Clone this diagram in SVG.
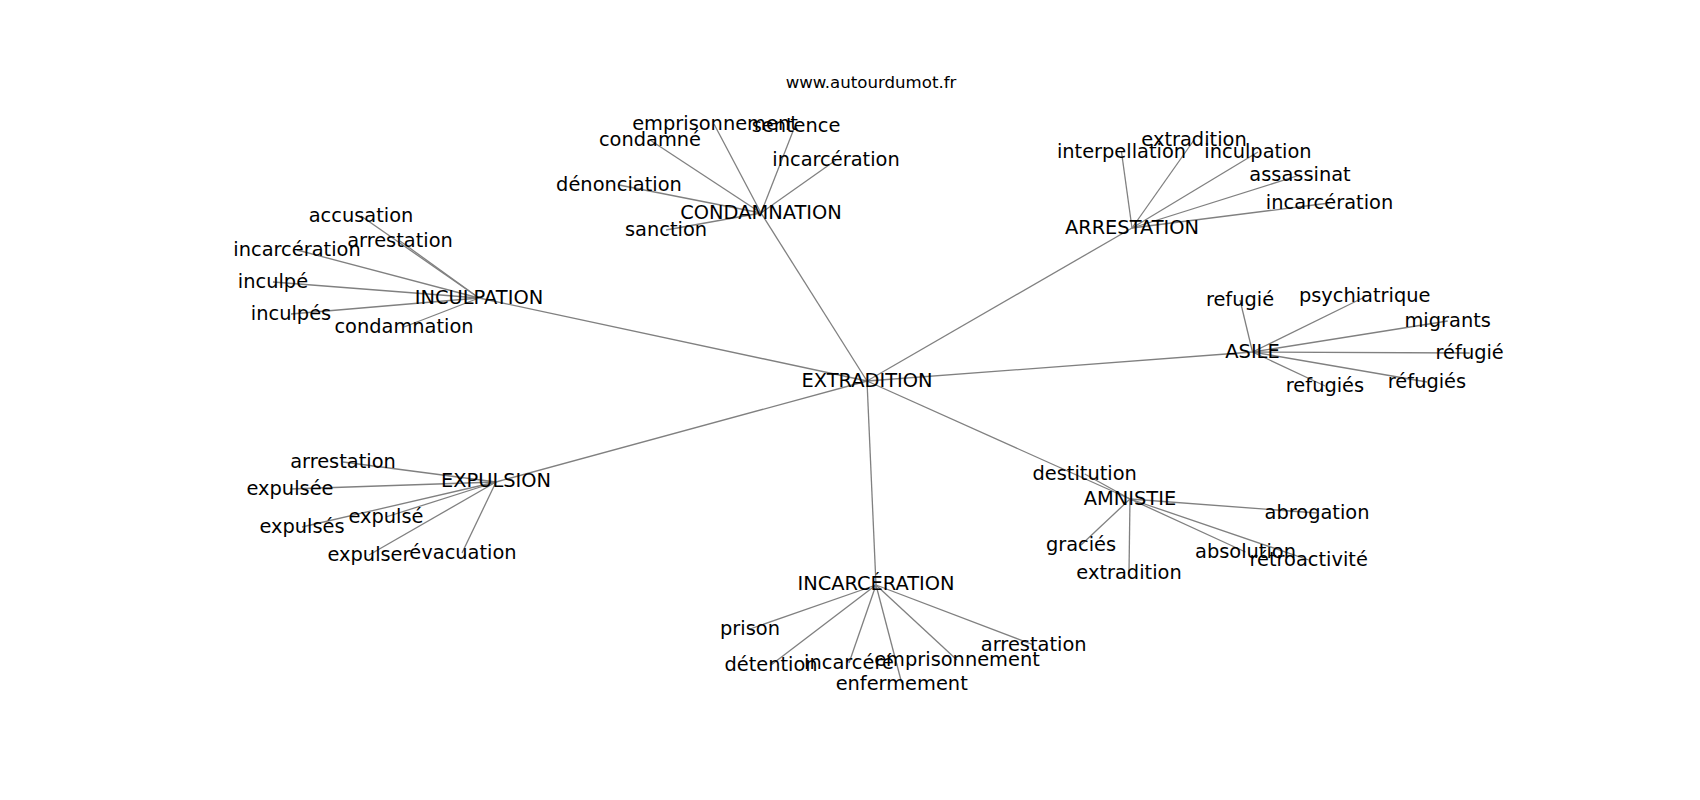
<svg xmlns="http://www.w3.org/2000/svg" width="1700" height="800" viewBox="0 0 1700 800">
<style>
  .bg { fill: #ffffff; }
  .edges line { stroke: #808080; stroke-width: 1.3; }
  .lbl { font-family: "DejaVu Sans", "Liberation Sans", sans-serif; font-size: 19.4px; fill: #000000; text-anchor: middle; }
  .title { font-family: "DejaVu Sans", "Liberation Sans", sans-serif; font-size: 16.6px; fill: #000000; text-anchor: middle; }
</style>
<rect class="bg" x="0" y="0" width="1700" height="800"/>
<text class="title" x="871" y="88">www.autourdumot.fr</text>
<g id="edges" class="edges">
  <line x1="867" y1="381" x2="479" y2="298"/>
  <line x1="867" y1="381" x2="761" y2="213"/>
  <line x1="867" y1="381" x2="1132" y2="228"/>
  <line x1="867" y1="381" x2="1252.5" y2="352"/>
  <line x1="867" y1="381" x2="496" y2="482"/>
  <line x1="867" y1="381" x2="1130" y2="499"/>
  <line x1="867" y1="381" x2="876" y2="585"/>

  <line x1="479" y1="298" x2="361" y2="216"/>
  <line x1="479" y1="298" x2="400" y2="241"/>
  <line x1="479" y1="298" x2="297" y2="250"/>
  <line x1="479" y1="298" x2="273" y2="282"/>
  <line x1="479" y1="298" x2="291" y2="314"/>
  <line x1="479" y1="298" x2="404" y2="327"/>

  <line x1="761" y1="213" x2="714" y2="124"/>
  <line x1="761" y1="213" x2="795" y2="126"/>
  <line x1="761" y1="213" x2="650" y2="140"/>
  <line x1="761" y1="213" x2="836" y2="160"/>
  <line x1="761" y1="213" x2="619" y2="185"/>
  <line x1="761" y1="213" x2="666" y2="230"/>

  <line x1="1132" y1="228" x2="1194" y2="140"/>
  <line x1="1132" y1="228" x2="1121.5" y2="152"/>
  <line x1="1132" y1="228" x2="1258" y2="152"/>
  <line x1="1132" y1="228" x2="1300" y2="175"/>
  <line x1="1132" y1="228" x2="1329.5" y2="203"/>

  <line x1="1252.5" y1="352" x2="1240" y2="300"/>
  <line x1="1252.5" y1="352" x2="1364.7" y2="297"/>
  <line x1="1252.5" y1="352" x2="1447.7" y2="321"/>
  <line x1="1252.5" y1="352" x2="1469.7" y2="353"/>
  <line x1="1252.5" y1="352" x2="1427" y2="382"/>
  <line x1="1252.5" y1="352" x2="1325" y2="386"/>

  <line x1="496" y1="482" x2="343" y2="462"/>
  <line x1="496" y1="482" x2="290" y2="489"/>
  <line x1="496" y1="482" x2="302" y2="527"/>
  <line x1="496" y1="482" x2="386" y2="517"/>
  <line x1="496" y1="482" x2="369" y2="555"/>
  <line x1="496" y1="482" x2="462" y2="553"/>

  <line x1="1130" y1="499" x2="1084.7" y2="474"/>
  <line x1="1130" y1="499" x2="1317" y2="513"/>
  <line x1="1130" y1="499" x2="1081" y2="545"/>
  <line x1="1130" y1="499" x2="1129" y2="573"/>
  <line x1="1130" y1="499" x2="1245.5" y2="552"/>
  <line x1="1130" y1="499" x2="1308.7" y2="560"/>

  <line x1="876" y1="585" x2="750" y2="629"/>
  <line x1="876" y1="585" x2="771" y2="665"/>
  <line x1="876" y1="585" x2="849" y2="663"/>
  <line x1="876" y1="585" x2="957" y2="660"/>
  <line x1="876" y1="585" x2="1033.7" y2="645"/>
  <line x1="876" y1="585" x2="901.7" y2="683"/>
</g>

<g id="n-extradition"><text class="lbl" x="867" y="387">EXTRADITION</text></g>

<g id="n-inculpation"><text class="lbl" x="479" y="304">INCULPATION</text></g>
<g id="n-inculpation-accusation"><text class="lbl" x="361" y="222">accusation</text></g>
<g id="n-inculpation-arrestation"><text class="lbl" x="400" y="247">arrestation</text></g>
<g id="n-inculpation-incarceration"><text class="lbl" x="297" y="256">incarcération</text></g>
<g id="n-inculpation-inculpe"><text class="lbl" x="273" y="288">inculpé</text></g>
<g id="n-inculpation-inculpes"><text class="lbl" x="291" y="320">inculpés</text></g>
<g id="n-inculpation-condamnation"><text class="lbl" x="404" y="333">condamnation</text></g>

<g id="n-condamnation"><text class="lbl" x="761" y="219">CONDAMNATION</text></g>
<g id="n-condamnation-emprisonnement"><text class="lbl" x="715" y="130">emprisonnement</text></g>
<g id="n-condamnation-sentence"><text class="lbl" x="796" y="132">sentence</text></g>
<g id="n-condamnation-condamne"><text class="lbl" x="650" y="146">condamné</text></g>
<g id="n-condamnation-incarceration"><text class="lbl" x="836" y="166">incarcération</text></g>
<g id="n-condamnation-denonciation"><text class="lbl" x="619" y="191">dénonciation</text></g>
<g id="n-condamnation-sanction"><text class="lbl" x="666" y="236">sanction</text></g>

<g id="n-arrestation"><text class="lbl" x="1132" y="234">ARRESTATION</text></g>
<g id="n-arrestation-extradition"><text class="lbl" x="1194" y="146">extradition</text></g>
<g id="n-arrestation-interpellation"><text class="lbl" x="1121.5" y="158">interpellation</text></g>
<g id="n-arrestation-inculpation"><text class="lbl" x="1258" y="158">inculpation</text></g>
<g id="n-arrestation-assassinat"><text class="lbl" x="1300" y="181">assassinat</text></g>
<g id="n-arrestation-incarceration"><text class="lbl" x="1329.5" y="209">incarcération</text></g>

<g id="n-asile"><text class="lbl" x="1252.5" y="358">ASILE</text></g>
<g id="n-asile-refugie1"><text class="lbl" x="1240" y="306">refugié</text></g>
<g id="n-asile-psychiatrique"><text class="lbl" x="1364.7" y="302">psychiatrique</text></g>
<g id="n-asile-migrants"><text class="lbl" x="1447.7" y="327">migrants</text></g>
<g id="n-asile-refugie2"><text class="lbl" x="1469.7" y="359">réfugié</text></g>
<g id="n-asile-refugies2"><text class="lbl" x="1427" y="388">réfugiés</text></g>
<g id="n-asile-refugies1"><text class="lbl" x="1325" y="392">refugiés</text></g>

<g id="n-expulsion"><text class="lbl" x="496" y="487">EXPULSION</text></g>
<g id="n-expulsion-arrestation"><text class="lbl" x="343" y="468">arrestation</text></g>
<g id="n-expulsion-expulsee"><text class="lbl" x="290" y="495">expulsée</text></g>
<g id="n-expulsion-expulses"><text class="lbl" x="302" y="533">expulsés</text></g>
<g id="n-expulsion-expulse"><text class="lbl" x="386" y="523">expulsé</text></g>
<g id="n-expulsion-expulser"><text class="lbl" x="369" y="561">expulser</text></g>
<g id="n-expulsion-evacuation"><text class="lbl" x="463" y="559">évacuation</text></g>

<g id="n-amnistie"><text class="lbl" x="1130" y="505">AMNISTIE</text></g>
<g id="n-amnistie-destitution"><text class="lbl" x="1084.7" y="480">destitution</text></g>
<g id="n-amnistie-abrogation"><text class="lbl" x="1317" y="519">abrogation</text></g>
<g id="n-amnistie-gracies"><text class="lbl" x="1081" y="551">graciés</text></g>
<g id="n-amnistie-extradition"><text class="lbl" x="1129" y="579">extradition</text></g>
<g id="n-amnistie-absolution"><text class="lbl" x="1245.5" y="558">absolution</text></g>
<g id="n-amnistie-retroactivite"><text class="lbl" x="1308.7" y="566">rétroactivité</text></g>

<g id="n-incarceration"><text class="lbl" x="876" y="590">INCARCÉRATION</text></g>
<g id="n-incarceration-prison"><text class="lbl" x="750" y="635">prison</text></g>
<g id="n-incarceration-detention"><text class="lbl" x="771" y="671">détention</text></g>
<g id="n-incarceration-incarcere"><text class="lbl" x="849" y="669">incarcéré</text></g>
<g id="n-incarceration-emprisonnement"><text class="lbl" x="957" y="666">emprisonnement</text></g>
<g id="n-incarceration-arrestation"><text class="lbl" x="1033.7" y="651">arrestation</text></g>
<g id="n-incarceration-enfermement"><text class="lbl" x="901.7" y="690">enfermement</text></g>
</svg>
